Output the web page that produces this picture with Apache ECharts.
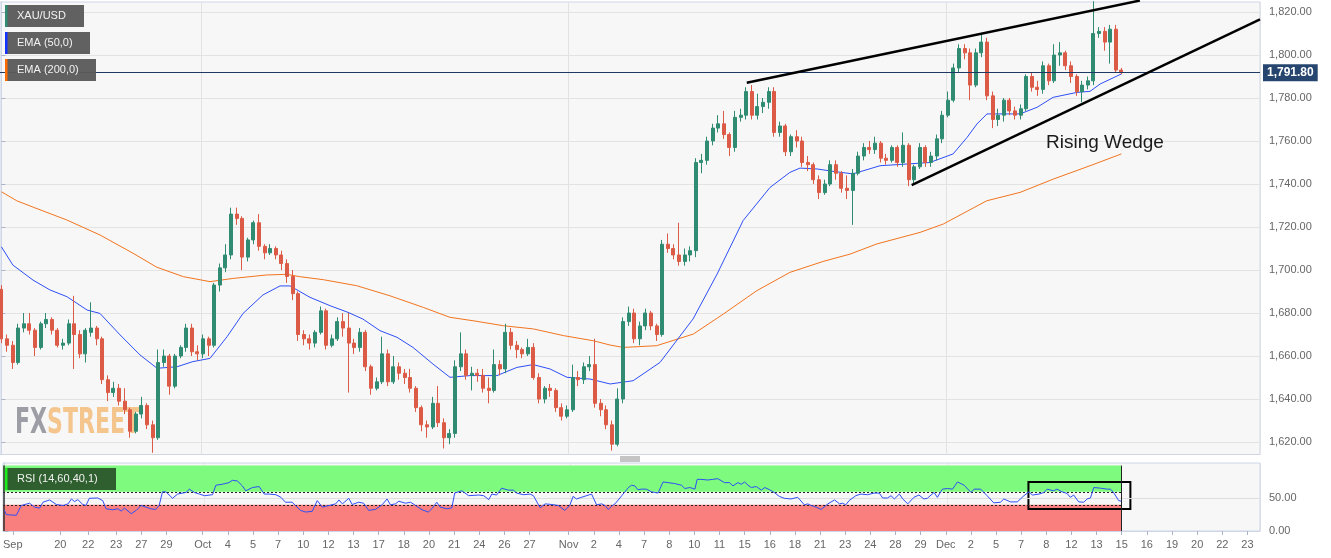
<!DOCTYPE html>
<html><head><meta charset="utf-8">
<script src="https://cdn.jsdelivr.net/npm/echarts@6/dist/echarts.min.js"></script>
<style>html,body{margin:0;padding:0;background:#fff}#c{width:1331px;height:558px}</style>
</head><body><div id="c"></div>
<script>
// 4-hour time slots on the x axis (candles shown every 2nd slot = 8h bars)
const SLOTS = 450;
const tickSlots = [3,20,30,40,49,58,71,80,89,98,107,116,125,134,143,152,161,170,179,188,202,211,220,229,238,247,256,265,274,283,292,301,310,319,328,337,346,355,364,373,382,391,400,409,418,427,436,445];
const tickLabels = ['Sep','20','22','23','27','29','Oct','4','5','7','10','12','13','17','18','20','21','24','26','27','Nov','2','4','7','8','10','11','15','16','18','21','23','24','28','29','Dec','2','5','7','8','12','13','15','16','19','20','22','23'];
const monthBoundarySlots = [72,203,338];
const priceTicks = [1620,1640,1660,1680,1700,1720,1740,1760,1780,1800,1820];

// XAU/USD bars: [open, close, low, high]
const ohlc = [
[1691,1668,1666,1693],[1668,1665,1662,1670],[1665,1657,1654,1667],[1657,1673,1656,1675],[1673,1675,1671,1680],
[1675,1672,1670,1680],[1672,1664,1660,1673],[1664,1675,1663,1676],[1675,1677,1673,1680],[1677,1672,1670,1678],
[1672,1665,1664,1673],[1665,1666,1663,1668],[1666,1675,1665,1677],[1675,1670,1654,1688],[1670,1661,1659,1672],
[1661,1672,1657,1673],[1671,1673,1669,1685],[1673,1668,1665,1674],[1668,1649,1647,1669],[1649,1643,1639,1651],
[1643,1645,1641,1648],[1645,1639,1637,1647],[1639,1635,1633,1645],[1635,1625,1622,1636],[1625,1633,1624,1634],
[1633,1637,1631,1641],[1637,1628,1626,1638],[1628,1622,1615,1630],[1622,1657,1621,1663],[1657,1660,1655,1663],
[1660,1646,1642,1661],[1646,1660,1645,1661],[1660,1664,1659,1665],[1664,1673,1662,1675],[1673,1662,1660,1675],
[1662,1661,1658,1665],[1661,1668,1659,1670],[1668,1665,1660,1669],[1665,1693,1664,1694],[1693,1701,1690,1703],
[1701,1707,1699,1712],[1707,1726,1705,1729],[1726,1724,1721,1729],[1724,1706,1700,1725],[1706,1714,1704,1715],
[1714,1722,1712,1723],[1722,1711,1709,1726],[1711,1708,1705,1712],[1708,1710,1707,1712],[1710,1707,1705,1711],
[1707,1703,1700,1709],[1703,1697,1694,1705],[1697,1689,1686,1700],[1689,1670,1667,1690],[1670,1668,1665,1672],
[1668,1666,1663,1670],[1666,1671,1664,1672],[1671,1681,1670,1683],[1681,1665,1663,1682],[1665,1668,1664,1670],
[1668,1676,1667,1678],[1676,1673,1669,1680],[1673,1666,1643,1680],[1666,1664,1661,1668],[1664,1671,1662,1673],
[1671,1655,1653,1672],[1655,1645,1642,1656],[1645,1648,1644,1650],[1648,1661,1647,1669],[1661,1648,1646,1663],
[1648,1655,1647,1660],[1655,1652,1649,1657],[1652,1650,1647,1654],[1650,1645,1643,1654],[1645,1636,1634,1646],
[1636,1628,1625,1637],[1628,1627,1622,1630],[1627,1638,1626,1641],[1638,1629,1627,1646],[1629,1622,1617,1631],
[1622,1624,1619,1626],[1624,1655,1622,1658],[1655,1661,1653,1671],[1661,1651,1649,1663],[1651,1652,1644,1655],
[1652,1651,1648,1654],[1651,1645,1643,1654],[1645,1644,1638,1650],[1644,1656,1643,1663],[1656,1654,1651,1658],
[1654,1671,1652,1675],[1671,1665,1663,1673],[1665,1663,1659,1667],[1663,1661,1659,1664],[1661,1664,1660,1668],
[1664,1650,1649,1666],[1650,1640,1638,1652],[1640,1645,1638,1646],[1645,1644,1641,1647],[1644,1636,1634,1645],
[1636,1632,1630,1638],[1632,1635,1631,1637],[1635,1650,1634,1656],[1650,1649,1646,1653],[1649,1655,1647,1657],
[1655,1656,1653,1660],[1656,1638,1636,1668],[1638,1635,1632,1640],[1635,1628,1626,1637],[1628,1619,1616,1630],
[1619,1640,1618,1645],[1640,1676,1638,1678],[1676,1680,1674,1683],[1680,1668,1666,1682],[1668,1674,1665,1676],
[1674,1680,1672,1682],[1680,1674,1672,1681],[1674,1670,1667,1675],[1670,1712,1669,1714],[1712,1710,1708,1717],
[1710,1707,1705,1712],[1707,1704,1702,1722],[1704,1707,1702,1710],[1707,1709,1704,1711],[1709,1750,1706,1752],
[1750,1751,1745,1754],[1751,1760,1749,1762],[1760,1766,1758,1768],[1766,1768,1764,1772],[1768,1763,1761,1774],
[1763,1757,1753,1764],[1757,1771,1755,1774],[1771,1772,1769,1775],[1772,1783,1770,1785],[1783,1772,1770,1786],
[1772,1776,1770,1782],[1776,1778,1773,1780],[1778,1783,1775,1785],[1783,1764,1762,1785],[1764,1767,1762,1769],
[1767,1755,1753,1768],[1755,1762,1753,1763],[1762,1760,1757,1765],[1760,1750,1748,1762],[1750,1749,1746,1753],
[1749,1742,1740,1750],[1742,1736,1733,1744],[1736,1740,1735,1742],[1740,1749,1739,1751],[1749,1745,1742,1751],
[1745,1738,1736,1746],[1738,1737,1733,1744],[1737,1745,1721,1747],[1745,1753,1744,1755],[1753,1757,1751,1759],
[1757,1756,1754,1760],[1756,1759,1754,1762],[1759,1752,1750,1760],[1752,1751,1749,1754],[1751,1757,1750,1758],
[1757,1750,1748,1758],[1750,1758,1748,1764],[1758,1742,1739,1759],[1742,1748,1740,1749],[1748,1757,1747,1759],
[1757,1750,1748,1758],[1750,1753,1748,1755],[1753,1761,1751,1763],[1761,1772,1759,1774],[1772,1779,1771,1783],
[1779,1794,1778,1796],[1794,1803,1792,1805],[1803,1801,1798,1805],[1801,1786,1779,1803],[1786,1801,1785,1803],
[1801,1806,1799,1810],[1806,1781,1779,1808],[1781,1770,1766,1783],[1770,1772,1767,1775],[1772,1779,1769,1780],
[1779,1774,1772,1780],[1774,1772,1770,1776],[1772,1775,1770,1777],[1775,1790,1774,1791],[1790,1785,1783,1792],
[1785,1784,1781,1788],[1784,1795,1782,1797],[1795,1788,1786,1796],[1788,1800,1787,1805],[1800,1801,1795,1806],
[1801,1795,1793,1802],[1795,1790,1787,1797],[1790,1783,1781,1791],[1783,1786,1778,1788],[1786,1788,1784,1790],
[1788,1810,1786,1825],[1810,1811,1808,1813],[1811,1806,1802,1813],[1806,1812,1796,1814],[1812,1793,1792,1814],
[1793,1791.8,1791,1794]
];
const lastPrice = 1791.8;

// EMA curves: [4h slot, value]
const ema50 = [[0,1710.8],[4.1,1702.3],[11.3,1695.3],[17.4,1690.7],[23.4,1687.6],[30.6,1681.4],[35.2,1679.8],[42.4,1669.8],[49.5,1660.5],[55.6,1654.3],[62.7,1655],[68.4,1657.4],[74.5,1658.9],[80.6,1669],[86.3,1679.8],[93.4,1688.4],[99.5,1692.6],[103.1,1692.6],[110.2,1687.3],[117.4,1683.4],[123.8,1680.3],[129.1,1677.2],[135.2,1671.8],[141.3,1668.7],[147,1664],[154.1,1656.3],[160.2,1650.1],[167.4,1650.9],[177,1650.9],[184.1,1654.7],[189.9,1656],[195.9,1654],[202,1650.1],[210.2,1649.3],[217.4,1647],[225.6,1648.5],[235.2,1657],[247,1677.2],[255.6,1698.1],[264.9,1723],[274.5,1738.4],[281.6,1745.4],[285.2,1747.4],[291.3,1747],[297,1745.9],[304.1,1744.7],[313.8,1748.5],[323.4,1749.3],[331.6,1750],[339.9,1754],[344.9,1761.7],[348.4,1767.9],[352,1772.6],[363.8,1772.6],[369.9,1775.7],[375.6,1780.3],[384.1,1782.6],[388.8,1783.1],[392.4,1786.5],[400,1791.2]];
const ema200 = [[0,1736.4],[5.5,1732.2],[11.4,1729.2],[23.3,1723.3],[35.2,1716.3],[47,1707.8],[55.5,1701.3],[65,1696.9],[74.5,1694.6],[82.8,1696.1],[94.75,1697.7],[101.9,1698],[106.6,1696.9],[115,1695.5],[126.9,1692.7],[138.8,1688],[150.7,1682.6],[160.2,1678],[168.5,1676.4],[179.25,1674.1],[190,1672.6],[200.7,1669.5],[211.4,1667.1],[217.4,1665.1],[222.1,1664],[234,1664.8],[247.1,1670.2],[257.8,1679.5],[269.8,1690.4],[281.6,1698.9],[293.5,1704],[303.1,1707.4],[312.6,1712.1],[328.1,1717.5],[336.4,1721.4],[351.9,1732.2],[363.8,1736.1],[375.7,1742.3],[388.8,1748.5],[400,1754]];

// RSI(14): [bar index, value]
const rsi = [[0,31.5],[0.35,25],[2.13,24],[3.02,39],[4.51,42.5],[5.4,36.5],[6.3,35],[6.9,44],[8.1,47.5],[9.3,40.5],[10.5,39],[11.4,41.5],[12.0,49],[12.55,45],[13.14,48],[14.04,40.5],[14.6,39],[15.2,50],[16.7,50.5],[17.6,46.5],[18.2,34],[19.4,32.5],[20.3,34],[20.9,30.5],[21.5,35],[22.7,26.5],[23.6,31.5],[24.45,39],[25.35,36.5],[26.2,34],[27.1,33],[27.7,39],[28.3,60],[28.9,60],[30.1,50],[31.0,56.5],[32.5,59],[33.1,64],[34.0,59],[34.9,56.5],[35.8,54],[37.25,55.5],[37.85,70],[39.0,71.5],[40.2,74],[40.8,77.5],[41.7,76.5],[42.6,69],[43.2,61.5],[44.4,66.5],[45.6,68],[46.5,56.5],[47.4,56.5],[48.6,55.5],[49.5,51.5],[50.3,44],[51.5,44],[52.1,39],[53.0,31.5],[53.9,29],[55.1,30],[56.0,46.5],[56.9,36.5],[58.1,39],[59.3,41.5],[59.9,47.5],[60.5,41.5],[61.65,50],[62.25,40.5],[63.4,44],[64.3,42.5],[65.2,31.5],[66.4,33],[67.6,40],[68.5,49],[69.1,40],[70.0,41.5],[70.6,45.5],[71.8,42.5],[72.7,44],[73.6,39],[74.75,32.5],[75.9,29],[76.5,34],[77.4,44],[78.0,36.5],[79.2,34],[80.1,35.5],[80.6,58],[81.9,61.5],[83.1,54],[84.9,55],[85.8,54],[86.7,48],[87.25,56.5],[88.1,55],[89.0,65.5],[90.2,62.5],[91.1,62.5],[91.7,58],[92.9,55.5],[94.1,56.5],[94.7,54],[95.9,35.5],[96.8,41.5],[98.0,40.5],[99.15,39],[100.3,31.5],[101.2,39],[101.8,53],[102.4,49],[103.3,51.5],[105.1,56.5],[106.0,40],[106.9,41.5],[107.5,39],[108.1,33],[108.7,38],[109.3,41.5],[110.5,54],[111.7,66.5],[112.25,70],[112.85,69],[113.4,63],[114.0,64],[114.9,64],[115.8,60],[116.4,59],[117.0,58],[117.9,75],[118.8,74],[120.0,72.5],[121.2,70],[121.8,65],[122.7,66.5],[123.6,64],[124.0,79],[124.7,79],[125.9,78],[126.8,79],[127.7,80],[128.9,74],[129.8,74],[130.4,69],[131.3,74],[131.9,71.5],[132.5,75],[133.1,70],[133.7,66.5],[134.6,68],[135.5,62.5],[136.1,66.5],[137.0,63],[137.8,59],[138.7,53],[139.6,50],[140.8,49],[142.0,51.5],[143.2,40],[143.8,41.5],[144.4,39],[145.3,36.5],[146.2,33],[147.4,41.5],[148.6,47.5],[149.5,41.5],[150.05,42.5],[150.6,40],[151.2,46.5],[152.4,54],[153.3,56.5],[154.5,55.5],[155.7,58],[156.6,58],[157.2,50.5],[158.1,50.5],[158.7,54],[159.3,49],[160.2,56.5],[160.8,49],[161.7,41.5],[162.8,51.5],[163.7,55],[164.6,49],[165.2,50],[166.4,59],[167.0,51.5],[167.9,64],[168.8,65],[169.7,64],[170.6,75],[171.8,70],[173.0,59],[173.6,64],[174.75,64],[175.0,66.5],[175.9,54],[177.1,43],[178.3,44],[178.9,49],[180.1,44.5],[181.3,44.5],[182.5,54],[183.4,60],[184.0,55],[185.2,56.5],[186.1,59],[186.65,64],[187.8,61.5],[188.4,64],[189.3,60],[190.2,57.5],[190.8,51.5],[191.4,55],[192.3,44.5],[193.2,44],[193.8,49],[194.4,50.5],[195.0,66.5],[196.2,65.5],[197.4,64],[198.0,64],[198.6,58],[199.45,46.5],[199.9,45.5]];
const rsiUpper = 60, rsiLower = 40;

// Annotations in data space: [4h slot, price]
const upperWedge = [[266.2,1787.1],[406.6,1825.35]];
const lowerWedge = [[325.1,1739.5],[449.5,1816.6]];
const rsiBox = [[366.6,75],[403.1,33.6]];
const lastSlot = 2 * (ohlc.length - 1);

const cats = Array.from({length: SLOTS}, (_, i) => String(i));
const labelMap = new Map(tickSlots.map((s, i) => [s, tickLabels[i]]));
const monthSet = new Set(monthBoundarySlots);
const fmt2 = v => Number(v).toLocaleString('en-US', {minimumFractionDigits: 2, maximumFractionDigits: 2});

const UP = '#2f8c72', DOWN = '#dc5b46', BLUE = '#2e4ff5', ORANGE = '#f2741e';
const FRAME = '#cdd5e6';
const chart = echarts.init(document.getElementById('c'), null, {renderer: 'canvas'});

const legendBox = (y, w, strip, text) => ([
  {type: 'rect', left: 5, top: y, shape: {width: w, height: 22}, style: {fill: 'rgba(88,88,88,0.95)'}, z: 100},
  {type: 'rect', left: 5, top: y, shape: {width: 2.5, height: 22}, style: {fill: strip}, z: 101},
  {type: 'text', left: 17, top: y + 5, style: {text: text, fill: '#f2f2f2', font: '11px Arial, "Liberation Sans", sans-serif'}, z: 101}
]);

chart.setOption({
  animation: false,
  backgroundColor: '#ffffff',
  grid: [
    {left: 0, top: 2, width: 1260, height: 452.5, show: true, backgroundColor: '#f7f7f7', borderColor: FRAME, borderWidth: 1},
    {left: 0, top: 463, width: 1260, height: 68, show: true, backgroundColor: '#f7f7f7', borderColor: FRAME, borderWidth: 1}
  ],
  xAxis: [
    {type: 'category', gridIndex: 0, data: cats, boundaryGap: true,
     axisLine: {show: false}, axisTick: {show: false}, axisLabel: {show: false},
     splitLine: {show: true, interval: (i) => monthSet.has(i), lineStyle: {color: '#e2e2e2', width: 1}}},
    {type: 'category', gridIndex: 1, data: cats, boundaryGap: true,
     axisLine: {show: true, lineStyle: {color: FRAME}},
     axisTick: {show: true, alignWithLabel: true, interval: (i) => labelMap.has(i), length: 4, lineStyle: {color: '#aab3c7'}},
     axisLabel: {show: true, interval: (i) => labelMap.has(i), formatter: (v) => labelMap.get(+v) || '', color: '#666', fontSize: 11, margin: 8, fontFamily: 'Arial, "Liberation Sans", sans-serif'},
     splitLine: {show: true, interval: (i) => monthSet.has(i), lineStyle: {color: 'rgba(0,0,0,0.05)'}}},
    {type: 'value', gridIndex: 0, min: -0.5, max: SLOTS - 0.5, show: false},
    {type: 'value', gridIndex: 1, min: -0.5, max: SLOTS - 0.5, show: false}
  ],
  yAxis: [
    {type: 'value', gridIndex: 0, position: 'right', min: 1614.2, max: 1824.65, minInterval: 20, maxInterval: 20, scale: true,
     axisLine: {show: true, lineStyle: {color: FRAME}},
     axisTick: {show: true, length: 4, lineStyle: {color: '#aab3c7'}, customValues: priceTicks},
     axisLabel: {color: '#666', fontSize: 11, margin: 9, fontFamily: 'Arial, "Liberation Sans", sans-serif', customValues: priceTicks,
       formatter: (v) => (Math.abs(v / 20 - Math.round(v / 20)) < 1e-6 ? fmt2(v) : '')},
     splitLine: {show: true, lineStyle: {color: '#e3e3e3'}}},
    {type: 'value', gridIndex: 1, position: 'right', min: 0, max: 104, interval: 50,
     axisLine: {show: true, lineStyle: {color: FRAME}},
     axisTick: {show: true, length: 4, lineStyle: {color: '#aab3c7'}, customValues: [0, 50]},
     axisLabel: {color: '#666', fontSize: 11, margin: 9, fontFamily: 'Arial, "Liberation Sans", sans-serif', customValues: [0, 50],
       formatter: (v) => (v === 0 || v === 50 ? fmt2(v) : '')},
     splitLine: {show: false}}
  ],
  series: [
    {type: 'candlestick', name: 'XAU/USD', xAxisIndex: 0, yAxisIndex: 0,
     dimensions: ['slot', 'open', 'close', 'lowest', 'highest'],
     encode: {x: 'slot', y: ['open', 'close', 'lowest', 'highest']},
     data: ohlc.map((c, k) => [2 * k, c[0], c[1], c[2], c[3]]),
     barWidth: 3.6, z: 3,
     itemStyle: {color: UP, color0: DOWN, borderColor: UP, borderColor0: DOWN, borderWidth: 1},
     markLine: {silent: true, symbol: 'none', animation: false,
       data: [{yAxis: lastPrice}],
       lineStyle: {color: '#1e3a64', width: 1, type: 'solid'},
       label: {show: true, position: 'end', distance: 3, formatter: () => fmt2(lastPrice), color: '#fff', fontWeight: 'bold', fontSize: 12,
         fontFamily: 'Arial, "Liberation Sans", sans-serif', backgroundColor: '#264670', padding: [3, 4, 2, 4]}}},
    {type: 'line', name: 'EMA (200,0)', xAxisIndex: 2, yAxisIndex: 0, data: ema200, showSymbol: false, smooth: false,
     lineStyle: {color: ORANGE, width: 1}, z: 3},
    {type: 'line', name: 'EMA (50,0)', xAxisIndex: 2, yAxisIndex: 0, data: ema50, showSymbol: false,
     lineStyle: {color: BLUE, width: 1}, z: 3},
    {type: 'line', name: 'upper wedge', xAxisIndex: 2, yAxisIndex: 0, data: upperWedge, showSymbol: false, clip: false,
     lineStyle: {color: '#000', width: 2.4}, z: 6},
    {type: 'line', name: 'lower wedge', xAxisIndex: 2, yAxisIndex: 0, data: lowerWedge, showSymbol: false, clip: false,
     lineStyle: {color: '#000', width: 2.4}, z: 6},
    {type: 'line', name: 'rsi zones', xAxisIndex: 3, yAxisIndex: 1, data: [], z: 1,
     markArea: {silent: true, data: [
       [{xAxis: -0.5, yAxis: rsiUpper, itemStyle: {color: '#7efa7e'}}, {xAxis: lastSlot, yAxis: 100}],
       [{xAxis: -0.5, yAxis: 0, itemStyle: {color: '#f97f7f'}}, {xAxis: lastSlot, yAxis: rsiLower}]
     ]},
     markLine: {silent: true, symbol: 'none', label: {show: false}, data: [
       [{xAxis: -0.5, yAxis: 50, lineStyle: {color: '#dedede', type: 'solid', width: 1}}, {xAxis: SLOTS - 0.5, yAxis: 50}],
       [{xAxis: -0.5, yAxis: rsiUpper, lineStyle: {color: '#222', type: [2, 2], width: 1}}, {xAxis: lastSlot, yAxis: rsiUpper}],
       [{xAxis: -0.5, yAxis: rsiLower, lineStyle: {color: '#222', type: [2, 2], width: 1}}, {xAxis: lastSlot, yAxis: rsiLower}],
       [{xAxis: lastSlot, yAxis: 0, lineStyle: {color: '#222', type: 'solid', width: 1}}, {xAxis: lastSlot, yAxis: 100}],
       [{xAxis: -0.3, yAxis: 0, lineStyle: {color: '#333', type: 'solid', width: 1.5}}, {xAxis: -0.3, yAxis: 100}]
     ]}},
    {type: 'line', name: 'RSI', xAxisIndex: 3, yAxisIndex: 1, data: rsi.map(([k, v]) => [2 * k, v]), showSymbol: false,
     lineStyle: {color: BLUE, width: 1}, z: 5},
    {type: 'line', name: 'rsi box', xAxisIndex: 3, yAxisIndex: 1, data: [], z: 7,
     markArea: {silent: true, data: [[{xAxis: rsiBox[0][0], yAxis: rsiBox[0][1]}, {xAxis: rsiBox[1][0], yAxis: rsiBox[1][1]}]],
       itemStyle: {color: 'rgba(0,0,0,0)', borderColor: '#000', borderWidth: 2}}}
  ],
  graphic: [
    ...legendBox(5, 79, UP, 'XAU/USD'),
    ...legendBox(32, 85, '#1433ff', 'EMA (50,0)'),
    ...legendBox(59, 91, '#ff6a00', 'EMA (200,0)'),
    {type: 'rect', left: 5, top: 468, shape: {width: 111, height: 22}, style: {fill: '#2f5f2f'}, z: 100},
    {type: 'rect', left: 5, top: 468, shape: {width: 2.5, height: 22}, style: {fill: '#1aef1a'}, z: 101},
    {type: 'text', left: 17, top: 473, style: {text: 'RSI (14,60,40,1)', fill: '#f2f2f2', font: '11px Arial, "Liberation Sans", sans-serif'}, z: 101},
    {type: 'text', x: 15, y: 406, scaleX: 0.7, z: 1,
     style: {text: '{a|FX}{b|STREET}', font: 'bold 35px "Liberation Sans Narrow", "DejaVu Sans Condensed", sans-serif',
       rich: {a: {fill: '#9c9da5', font: 'bold 35px "Liberation Sans Narrow", "DejaVu Sans Condensed", sans-serif'},
              b: {fill: '#f4c58d', font: 'bold 35px "Liberation Sans Narrow", "DejaVu Sans Condensed", sans-serif'}}}},
    {type: 'text', left: 1046, top: 133, z: 60, style: {text: 'Rising Wedge', fill: '#1a1a1a', font: '19px Arial, "Liberation Sans", sans-serif'}},
    {type: 'line', shape: {x1: 620, y1: 457, x2: 640, y2: 457}, style: {stroke: '#8a8a8a', lineWidth: 1}},
    {type: 'line', shape: {x1: 620, y1: 459, x2: 640, y2: 459}, style: {stroke: '#8a8a8a', lineWidth: 1}},
    {type: 'line', shape: {x1: 620, y1: 461, x2: 640, y2: 461}, style: {stroke: '#8a8a8a', lineWidth: 1}}
  ]
});
</script>
</body></html>
